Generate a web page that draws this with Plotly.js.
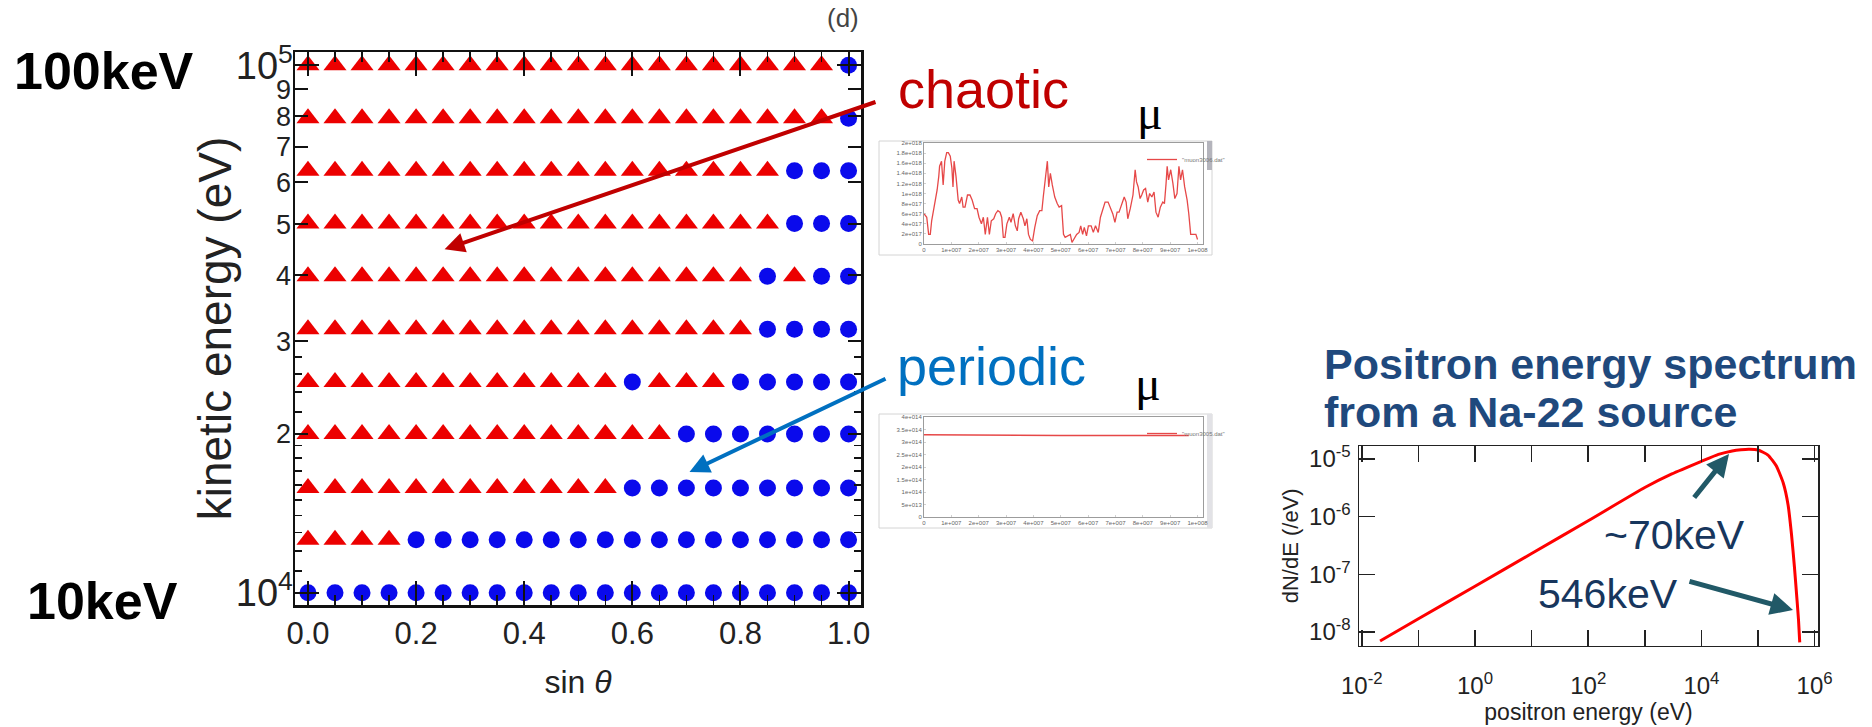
<!DOCTYPE html>
<html>
<head>
<meta charset="utf-8">
<script src="https://cdn.plot.ly/plotly-3.0.1.min.js"></script>
<style>
  html, body { margin: 0; padding: 0; background: #ffffff; }
  #chart { width: 1872px; height: 727px; }
</style>
</head>
<body>
<div id="chart"></div>
<script>
// ---- orbit classification map: sin(theta) vs kinetic energy ----
const sinTheta = [0, 0.05, 0.1, 0.15, 0.2, 0.25, 0.3, 0.35, 0.4, 0.45, 0.5,
                  0.55, 0.6, 0.65, 0.7, 0.75, 0.8, 0.85, 0.9, 0.95, 1.0];
const energyLevels = [10000, 12600, 15800, 20000, 25100, 31600, 39800, 50100, 63100, 79400, 100000];
// one string per energy level, one letter per sin(theta): C = chaotic, P = periodic
const orbitRows = [
  "PPPPPPPPPPPPPPPPPPPPP",
  "CCCCPPPPPPPPPPPPPPPPP",
  "CCCCCCCCCCCCPPPPPPPPP",
  "CCCCCCCCCCCCCCPPPPPPP",
  "CCCCCCCCCCCCPCCCPPPPP",
  "CCCCCCCCCCCCCCCCCPPPP",
  "CCCCCCCCCCCCCCCCCPCPP",
  "CCCCCCCCCCCCCCCCCCPPP",
  "CCCCCCCCCCCCCCCCCCPPP",
  "CCCCCCCCCCCCCCCCCCCCP",
  "CCCCCCCCCCCCCCCCCCCCP"
];
const sinTicks = [0, 0.2, 0.4, 0.6, 0.8, 1.0];
const sinTickText = ["0.0", "0.2", "0.4", "0.6", "0.8", "1.0"];
const energyTicks = [20000, 30000, 40000, 50000, 60000, 70000, 80000, 90000];
const energyTickText = ["2", "3", "4", "5", "6", "7", "8", "9"];
const energyDecades = [10000, 100000];
const energyDecadeText = ["10<sup>4</sup>", "10<sup>5</sup>"];
const energyMinor = [11000, 12000, 13000, 14000, 15000, 16000, 17000, 18000, 19000, 22000, 24000, 26000, 28000];

// ---- magnetic moment history, chaotic orbit (units: 1e6 steps, 1e18) ----
const chaosStep = [0, 1.0, 1.7, 2.3, 2.8, 3.8, 4.8, 5.4, 5.7, 6.4, 7.0, 7.6, 8.3, 8.9, 9.6, 10.2, 10.6, 11.0,
  11.7, 12.5, 13.0, 13.8, 14.3, 15.0, 15.9, 16.8, 17.6, 18.5, 19.4, 20.1, 21.0, 21.7, 22.4, 23.2, 23.9,
  24.6, 25.5, 26.2, 27.0, 27.8, 28.4, 29.0, 29.6, 30.3, 31.2, 31.8, 32.6, 33.4, 34.1, 34.6, 35.4, 36.3,
  36.9, 37.6, 38.2, 38.9, 39.7, 40.5, 41.4, 42.3, 43.1, 43.6, 44.1, 44.6, 45.1, 45.6, 46.2, 46.9, 47.8,
  48.7, 49.4, 50.3, 51.0, 51.6, 52.5, 53.5, 54.1, 55.0, 55.8, 56.7, 57.3, 58.0, 58.6, 59.4, 60.1, 61.1,
  61.9, 62.7, 63.7, 64.5, 65.2, 66.2, 67.3, 68.2, 69.0, 69.8, 70.6, 71.3, 72.4, 73.2, 73.9, 74.5, 75.4,
  76.4, 77.2, 77.7, 78.3, 79.0, 79.6, 80.3, 81.0, 81.8, 82.5, 83.3, 84.1, 84.8, 85.6, 86.4, 87.3, 87.9,
  88.5, 88.9, 89.4, 90.2, 91.0, 91.7, 92.5, 93.2, 93.8, 94.5, 95.3, 96.2, 96.8, 97.5, 98.1, 99.4, 100];
const chaosMu = [0.60, 0.53, 0.19, 0.19, 0.46, 0.73, 1.07, 1.34, 1.54, 1.64, 1.17, 1.64, 1.81, 1.81, 1.74, 1.50, 1.13, 1.64,
  1.34, 0.87, 0.80, 0.93, 0.73, 0.73, 0.97, 0.97, 0.87, 0.70, 0.70, 0.53, 0.40, 0.53, 0.19, 0.53, 0.19,
  0.46, 0.50, 0.60, 0.66, 0.63, 0.53, 0.13, 0.13, 0.40, 0.53, 0.43, 0.60, 0.36, 0.26, 0.50, 0.63, 0.50,
  0.36, 0.50, 0.19, 0.09, 0.06, 0.33, 0.56, 0.66, 0.66, 0.93, 1.20, 1.37, 1.64, 1.13, 1.40, 1.17, 0.93,
  0.80, 0.73, 0.76, 0.19, 0.13, 0.16, 0.19, 0.03, 0.13, 0.19, 0.23, 0.36, 0.19, 0.33, 0.16, 0.36, 0.36,
  0.23, 0.36, 0.23, 0.53, 0.66, 0.83, 0.83, 0.70, 0.60, 0.43, 0.63, 0.63, 0.83, 0.93, 0.83, 0.50, 0.70,
  0.97, 1.47, 1.23, 1.13, 0.90, 0.97, 1.07, 1.10, 0.83, 1.00, 0.93, 1.03, 0.63, 0.53, 0.73, 0.83, 0.80,
  1.20, 1.54, 1.27, 1.47, 1.20, 0.90, 1.00, 1.54, 1.27, 1.47, 1.13, 0.87, 0.60, 0.19, 0.19, 0.19, 0.09];
const chaosMuTicks = [0, 0.2, 0.4, 0.6, 0.8, 1.0, 1.2, 1.4, 1.6, 1.8, 2.0];
const chaosMuText = ["0", "2e+017", "4e+017", "6e+017", "8e+017", "1e+018", "1.2e+018", "1.4e+018", "1.6e+018", "1.8e+018", "2e+018"];

// ---- magnetic moment history, periodic orbit (units: 1e6 steps, 1e14) ----
const periodStep = [0, 10, 20, 30, 40, 50, 60, 70, 80, 90, 96.8];
const periodMu = [3.29, 3.28, 3.27, 3.26, 3.26, 3.26, 3.26, 3.26, 3.26, 3.26, 3.26];
const periodMuTicks = [0, 0.5, 1, 1.5, 2, 2.5, 3, 3.5, 4];
const periodMuText = ["0", "5e+013", "1e+014", "1.5e+014", "2e+014", "2.5e+014", "3e+014", "3.5e+014", "4e+014"];
const stepTicks = [0, 10, 20, 30, 40, 50, 60, 70, 80, 90, 100];
const stepText = ["0", "1e+007", "2e+007", "3e+007", "4e+007", "5e+007", "6e+007", "7e+007", "8e+007", "9e+007", "1e+008"];

// ---- Na-22 positron spectrum ----
const positronEnergy = [0.021, 0.1, 1, 10, 100, 1000, 3000, 10000, 20000, 35000, 50000, 70000,
  100000, 150000, 210000, 280000, 340000, 390000, 440000, 490000, 520000, 546000];
const dNdE = [7.0e-9, 1.7e-8, 6.2e-8, 2.3e-7, 8.5e-7, 3.2e-6, 5.5e-6, 9.1e-6, 1.2e-5, 1.38e-5, 1.45e-5, 1.48e-5,
  1.43e-5, 1.17e-5, 7.6e-6, 3.8e-6, 1.6e-6, 5.0e-7, 1.35e-7, 3.5e-8, 1.6e-8, 6.6e-9];
const spectrumXTicks = [1e-2, 1e0, 1e2, 1e4, 1e6];
const spectrumXText = ["10<sup>-2</sup>", "10<sup>0</sup>", "10<sup>2</sup>", "10<sup>4</sup>", "10<sup>6</sup>"];
const spectrumXOdd = [1e-1, 1e1, 1e3, 1e5];
const spectrumYTicks = [1e-8, 1e-7, 1e-6, 1e-5];
const spectrumYText = ["10<sup>-8</sup>", "10<sup>-7</sup>", "10<sup>-6</sup>", "10<sup>-5</sup>"];

// ---- split the classification grid into the two marker series ----
const chaoticX = [], chaoticY = [], periodicX = [], periodicY = [];
orbitRows.forEach((row, i) => {
  row.split("").forEach((kind, j) => {
    if (kind === "C") { chaoticX.push(sinTheta[j]); chaoticY.push(energyLevels[i]); }
    else { periodicX.push(sinTheta[j]); periodicY.push(energyLevels[i]); }
  });
});
const sinMinor = sinTheta.filter(v => !sinTicks.some(t => Math.abs(t - v) < 1e-9));

// page geometry helpers (pixel -> paper fraction)
const W = 1872, H = 727;
const fx = v => v / W;
const fy = v => 1 - v / H;

const SANS = "Liberation Sans, Arial, Helvetica, sans-serif";
const SERIF = "Liberation Serif, Times New Roman, serif";
const INK = "#1a1a1a";

const traces = [
  { type: "scatter", mode: "markers", x: chaoticX, y: chaoticY, xaxis: "x", yaxis: "y",
    marker: { symbol: "triangle-up", size: 20, color: "#ec0000", line: { width: 0 } },
    showlegend: false, cliponaxis: false, hoverinfo: "skip" },
  { type: "scatter", mode: "markers", x: periodicX, y: periodicY, xaxis: "x", yaxis: "y",
    marker: { symbol: "circle", size: 17, color: "#0a0aec", line: { width: 0 } },
    showlegend: false, cliponaxis: false, hoverinfo: "skip" },
  // carrier for the decade tick axis drawn over the main energy axis
  { type: "scatter", mode: "markers", x: [null], y: [null], xaxis: "x", yaxis: "y5",
    showlegend: false, hoverinfo: "skip" },
  { type: "scatter", mode: "lines", x: chaosStep, y: chaosMu, xaxis: "x2", yaxis: "y2",
    name: "\"muon3006.dat\"", legend: "legend2", showlegend: true,
    line: { color: "rgba(226,40,40,0.85)", width: 1.3 }, hoverinfo: "skip" },
  { type: "scatter", mode: "lines", x: periodStep, y: periodMu, xaxis: "x3", yaxis: "y3",
    name: "\"muon3005.dat\"", legend: "legend3", showlegend: true,
    line: { color: "rgba(226,40,40,0.85)", width: 1.3 }, hoverinfo: "skip" },
  { type: "scatter", mode: "lines", x: positronEnergy, y: dNdE, xaxis: "x4", yaxis: "y4",
    line: { color: "#ff0000", width: 3, shape: "spline", smoothing: 0.5 },
    showlegend: false, hoverinfo: "skip" }
];

const insetAxis = {
  showline: true, linecolor: "#9c9c9c", linewidth: 1, mirror: true,
  ticks: "inside", ticklen: 2, tickwidth: 0.6, tickcolor: "#b0b0b0",
  tickfont: { family: SANS, size: 6, color: "#666" },
  showgrid: false, zeroline: false, fixedrange: true
};

const layout = {
  width: W, height: H,
  margin: { l: 0, r: 0, t: 0, b: 0 },
  paper_bgcolor: "#ffffff", plot_bgcolor: "rgba(0,0,0,0)",
  font: { family: SANS, color: INK },
  showlegend: true,
  xaxis: {
    domain: [fx(295), fx(861)], range: [-0.024, 1.023], anchor: "y",
    showline: true, linecolor: "#111", linewidth: 2.5, mirror: "ticks",
    ticks: "inside", tickvals: sinTicks, ticktext: sinTickText,
    ticklen: 24, tickwidth: 2, tickcolor: "#111", ticklabelstandoff: -1,
    tickfont: { family: SANS, size: 31, color: "#222" },
    minor: { tickvals: sinMinor, ticks: "inside", ticklen: 10, tickwidth: 1.5, tickcolor: "#111" },
    showgrid: false, zeroline: false, layer: "above traces",
    title: { text: "sin <i>θ</i>", font: { family: SANS, size: 32, color: "#222" }, standoff: 21 }
  },
  yaxis: {
    type: "log", domain: [fy(605), fy(52)], range: [3.9767, 5.0252], anchor: "x",
    showline: true, linecolor: "#111", linewidth: 2.5, mirror: "ticks",
    ticks: "inside", tickvals: energyTicks, ticktext: energyTickText,
    ticklen: 13, tickwidth: 2, tickcolor: "#111", ticklabelstandoff: -4,
    tickfont: { family: SANS, size: 27, color: "#222" },
    minor: { tickvals: energyMinor, ticks: "inside", ticklen: 7, tickwidth: 1.5, tickcolor: "#111" },
    showgrid: false, zeroline: false, layer: "above traces",
    // trailing no-break spaces nudge the rotated label toward the lower rows
    title: { text: "kinetic energy (eV)\u00a0\u00a0\u00a0", font: { family: SANS, size: 46, color: "#222" }, standoff: 30 }
  },
  yaxis5: {
    type: "log", overlaying: "y", anchor: "x", side: "left", range: [3.9767, 5.0252],
    showline: true, linecolor: "#111", linewidth: 2.5, mirror: "ticks",
    ticks: "inside", tickvals: energyDecades, ticktext: energyDecadeText,
    ticklen: 24, tickwidth: 2, tickcolor: "#111", ticklabelstandoff: -8,
    tickfont: { family: SANS, size: 38, color: "#222" },
    showgrid: false, zeroline: false, layer: "above traces"
  },
  xaxis2: Object.assign({}, insetAxis, {
    domain: [fx(924), fx(1203)], range: [0, 102], anchor: "y2",
    tickvals: stepTicks, ticktext: stepText
  }),
  yaxis2: Object.assign({}, insetAxis, {
    domain: [fy(244), fy(143)], range: [0, 2], anchor: "x2",
    tickvals: chaosMuTicks, ticktext: chaosMuText
  }),
  xaxis3: Object.assign({}, insetAxis, {
    domain: [fx(924), fx(1203)], range: [0, 102], anchor: "y3",
    tickvals: stepTicks, ticktext: stepText
  }),
  yaxis3: Object.assign({}, insetAxis, {
    domain: [fy(517), fy(417)], range: [0, 4], anchor: "x3",
    tickvals: periodMuTicks, ticktext: periodMuText
  }),
  xaxis4: {
    type: "log", domain: [fx(1359), fx(1818)], range: [-2.05, 6.06], anchor: "y4",
    showline: true, linecolor: "#222", linewidth: 1.5, mirror: "ticks",
    ticks: "inside", tickvals: spectrumXTicks, ticktext: spectrumXText,
    ticklen: 16, tickwidth: 1.5, tickcolor: "#222", ticklabelstandoff: 18,
    tickfont: { family: SANS, size: 24, color: "#222" },
    minor: { tickvals: spectrumXOdd, ticks: "inside", ticklen: 16, tickwidth: 1.5, tickcolor: "#222" },
    showgrid: false, zeroline: false,
    title: { text: "positron energy (eV)", font: { family: SANS, size: 23, color: "#222" }, standoff: 0 }
  },
  yaxis4: {
    type: "log", domain: [fy(645.7), fy(446)], range: [-8.237, -4.775], anchor: "x4",
    showline: true, linecolor: "#222", linewidth: 1.5, mirror: "ticks",
    ticks: "inside", tickvals: spectrumYTicks, ticktext: spectrumYText,
    ticklen: 16, tickwidth: 1.5, tickcolor: "#222", ticklabelstandoff: 2,
    tickfont: { family: SANS, size: 24, color: "#222" },
    showgrid: false, zeroline: false,
    title: { text: "dN/dE (/eV)", font: { family: SANS, size: 22, color: "#222" }, standoff: 4 }
  },
  legend2: {
    x: fx(1142), y: fy(145), xanchor: "left", yanchor: "top",
    font: { family: SANS, size: 6, color: "#777" }, bgcolor: "rgba(0,0,0,0)",
    borderwidth: 0, itemwidth: 30
  },
  legend3: {
    x: fx(1142), y: fy(419), xanchor: "left", yanchor: "top",
    font: { family: SANS, size: 6, color: "#777" }, bgcolor: "rgba(0,0,0,0)",
    borderwidth: 0, itemwidth: 30
  },
  shapes: [
    // frames of the two small screenshot panels
    { type: "rect", xref: "paper", yref: "paper", x0: fx(879), x1: fx(1212), y0: fy(255), y1: fy(141),
      line: { color: "#d4d4d4", width: 1 }, layer: "below" },
    { type: "rect", xref: "paper", yref: "paper", x0: fx(1207), x1: fx(1212), y0: fy(170), y1: fy(141),
      line: { width: 0 }, fillcolor: "#b4b4bc", layer: "below" },
    { type: "rect", xref: "paper", yref: "paper", x0: fx(879), x1: fx(1212), y0: fy(528), y1: fy(414),
      line: { color: "#d4d4d4", width: 1 }, layer: "below" },
    { type: "rect", xref: "paper", yref: "paper", x0: fx(1207), x1: fx(1212), y0: fy(528), y1: fy(414),
      line: { width: 0 }, fillcolor: "#e2e2e6", layer: "below" }
  ],
  annotations: [
    { text: "<b>100keV</b>", x: fx(104), y: fy(71), xref: "paper", yref: "paper", showarrow: false,
      xanchor: "center", yanchor: "middle", font: { family: SANS, size: 52, color: "#000" } },
    { text: "<b>10keV</b>", x: fx(102), y: fy(601), xref: "paper", yref: "paper", showarrow: false,
      xanchor: "center", yanchor: "middle", font: { family: SANS, size: 52, color: "#000" } },
    { text: "(d)", x: fx(843), y: fy(18), xref: "paper", yref: "paper", showarrow: false,
      xanchor: "center", yanchor: "middle", font: { family: SANS, size: 26, color: "#444" } },
    { text: "chaotic", x: fx(983), y: fy(89), xref: "paper", yref: "paper", showarrow: false,
      xanchor: "center", yanchor: "middle", font: { family: SANS, size: 54, color: "#c00000" } },
    { text: "periodic", x: fx(991), y: fy(366), xref: "paper", yref: "paper", showarrow: false,
      xanchor: "center", yanchor: "middle", font: { family: SANS, size: 54, color: "#0070c0" } },
    { text: "μ", x: fx(1150), y: fy(112), xref: "paper", yref: "paper", showarrow: false,
      xanchor: "center", yanchor: "middle", font: { family: SERIF, size: 48, color: "#000" } },
    { text: "μ", x: fx(1148), y: fy(384), xref: "paper", yref: "paper", showarrow: false,
      xanchor: "center", yanchor: "middle", font: { family: SERIF, size: 48, color: "#000" } },
    // pointers from the labels into the map
    { text: "", x: fx(444.6), y: fy(249.3), xref: "paper", yref: "paper",
      ax: 877 - 444.6, ay: 101.5 - 249.3, axref: "pixel", ayref: "pixel",
      showarrow: true, arrowhead: 2, arrowsize: 1, arrowwidth: 4, arrowcolor: "#c00000" },
    { text: "", x: fx(689.5), y: fy(472), xref: "paper", yref: "paper",
      ax: 887 - 689.5, ay: 378 - 472, axref: "pixel", ayref: "pixel",
      showarrow: true, arrowhead: 2, arrowsize: 1, arrowwidth: 4, arrowcolor: "#0070c0" },
    // spectrum panel heading and callouts
    { text: "<b>Positron energy spectrum</b>", x: fx(1322), y: fy(364), xref: "paper", yref: "paper",
      showarrow: false, xanchor: "left", yanchor: "middle", font: { family: SANS, size: 43, color: "#1f497d" } },
    { text: "<b>from a Na-22 source</b>", x: fx(1322), y: fy(412), xref: "paper", yref: "paper",
      showarrow: false, xanchor: "left", yanchor: "middle", font: { family: SANS, size: 43, color: "#1f497d" } },
    { text: "~70keV", x: fx(1674), y: fy(535), xref: "paper", yref: "paper", showarrow: false,
      xanchor: "center", yanchor: "middle", font: { family: SANS, size: 41, color: "#17365d" } },
    { text: "546keV", x: fx(1608), y: fy(594), xref: "paper", yref: "paper", showarrow: false,
      xanchor: "center", yanchor: "middle", font: { family: SANS, size: 41, color: "#17365d" } },
    { text: "", x: fx(1729), y: fy(454), xref: "paper", yref: "paper",
      ax: 1693 - 1729, ay: 499 - 454, axref: "pixel", ayref: "pixel",
      showarrow: true, arrowhead: 2, arrowsize: 0.9, arrowwidth: 5, arrowcolor: "#215967" },
    { text: "", x: fx(1793), y: fy(610), xref: "paper", yref: "paper",
      ax: 1688 - 1793, ay: 581 - 610, axref: "pixel", ayref: "pixel",
      showarrow: true, arrowhead: 2, arrowsize: 0.9, arrowwidth: 5, arrowcolor: "#215967" }
  ]
};

Plotly.newPlot("chart", traces, layout, { staticPlot: true, displayModeBar: false });
</script>
</body>
</html>
